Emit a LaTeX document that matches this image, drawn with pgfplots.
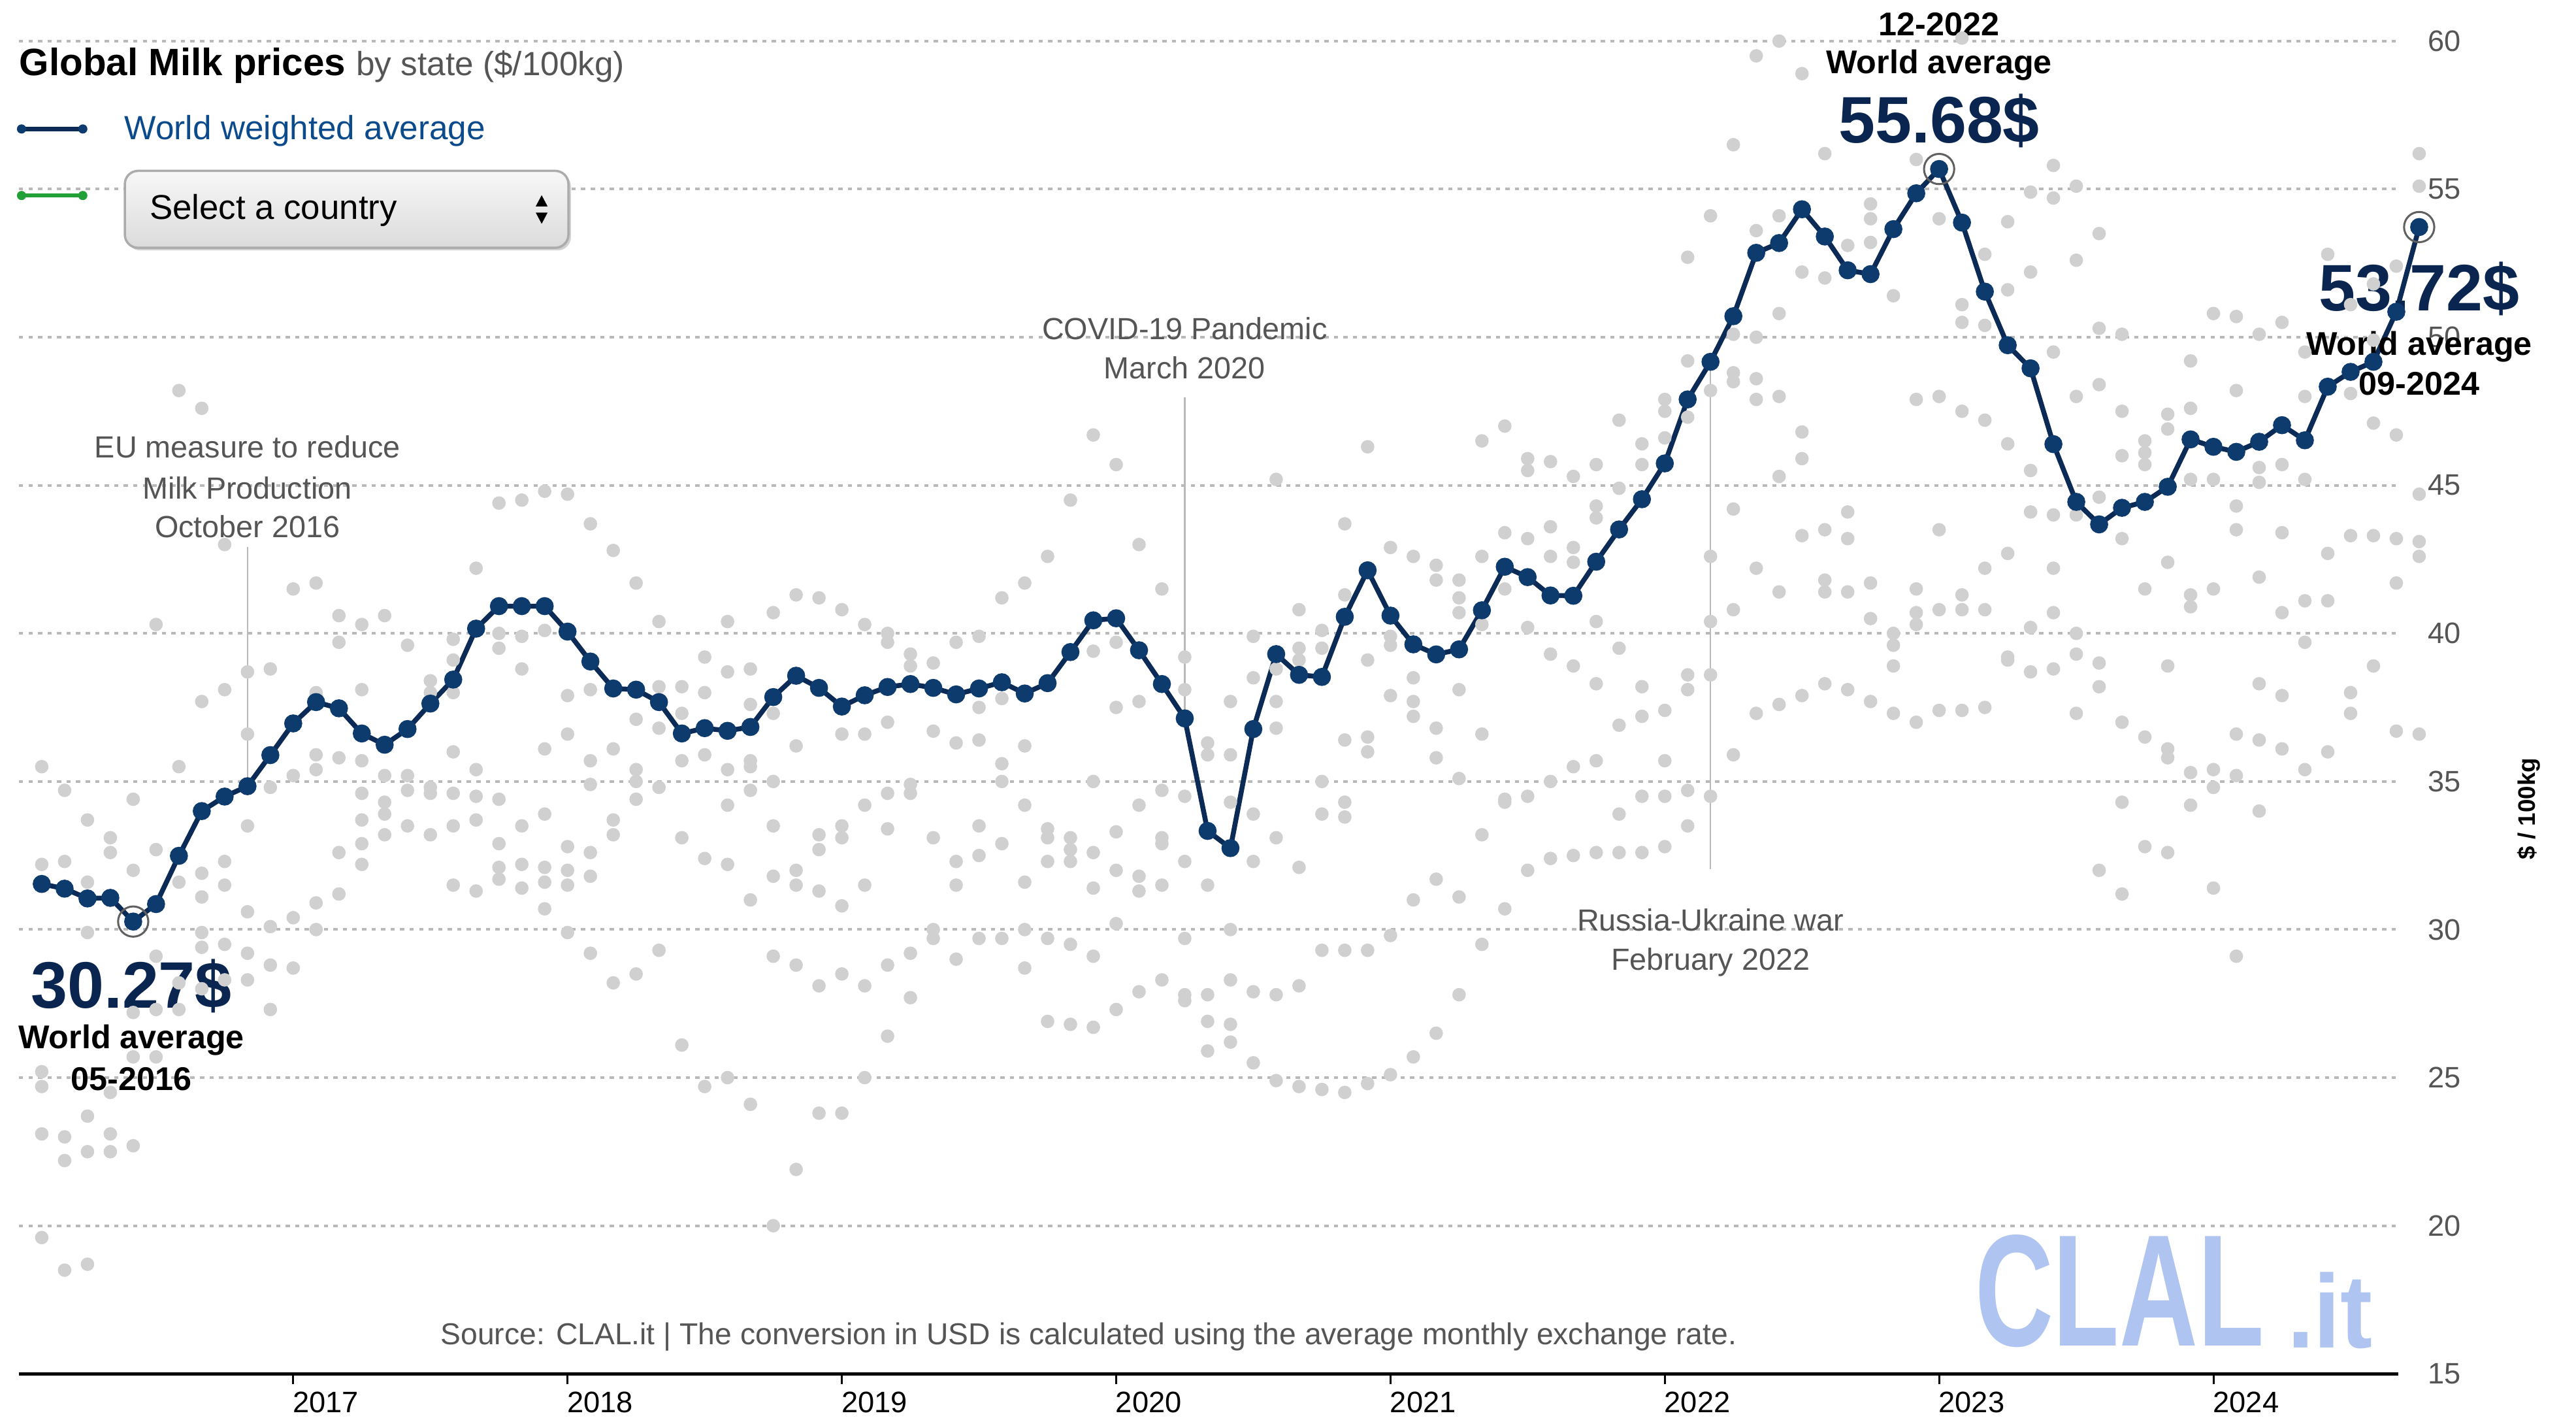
\documentclass[border=0pt]{standalone}
\usepackage{pgfplots}
\pgfplotsset{compat=1.18}
\usepackage{fontspec}
\setmainfont{Liberation Sans}
\definecolor{navyline}{HTML}{0B2A55}
\definecolor{navydot}{HTML}{0D3B6E}
\definecolor{dotgray}{HTML}{D0D0D0}
\definecolor{txtgray}{HTML}{555555}
\definecolor{legblue}{HTML}{0B4A8B}
\definecolor{biglbl}{HTML}{0A2550}
\definecolor{logoblue}{HTML}{AFC4F0}
\definecolor{leggreen}{HTML}{21A038}
\newcommand{\fs}[1]{\fontsize{#1}{1.2\dimexpr#1\relax}\selectfont}
\begin{document}
\begin{tikzpicture}
\begin{axis}[
  scale only axis, width=724.25pt, height=405.5pt,
  xmin=0, xmax=104.1, ymin=15, ymax=60,
  clip=false,
  axis x line*=bottom, axis y line*=right,
  y axis line style={draw=none},
  x axis line style={black, line width=1pt},
  xtick={12,24,36,48,60,72,84,96},
  xticklabels={2017,2018,2019,2020,2021,2022,2023,2024},
  ytick={15,20,25,30,35,40,45,50,55,60},
  tick align=outside, major tick length=3.2pt,
  xtick style={black, line width=0.6pt},
  ytick style={draw=none},
  ymajorgrids,
  grid style={gray!55, line width=0.8pt, dash pattern=on 1.3pt off 1.6pt},
  xticklabel style={anchor=north west, inner sep=0pt, font=\fs{9pt}, text=black, xshift=-0.3pt, yshift=-2pt},
  yticklabel style={anchor=west, inner sep=0pt, font=\fs{9pt}, text=txtgray, xshift=5.5pt},
  /pgf/number format/assume math mode=true,
]
% gray country dots
\addplot[only marks, color=dotgray, mark=*, mark size=1.9pt, mark options={draw=dotgray, fill=dotgray, line width=0.3pt}] coordinates {
(1,35.5)(1,32.2)(1,25.2)(1,24.7)(1,23.1)(1,19.6)
(2,34.7)(2,32.3)(2,23.0)(2,22.2)(2,18.5)
(3,33.7)(3,31.6)(3,29.9)(3,23.7)(3,22.5)(3,18.7)
(4,33.1)(4,32.6)(4,24.5)(4,23.1)(4,22.5)
(5,34.4)(5,32.0)(5,22.7)(5,27.2)(5,25.7)
(6,40.3)(6,32.7)(6,29.1)(6,27.3)(6,25.7)
(7,48.2)(7,35.5)(7,31.6)(7,28.2)(7,27.3)
(8,47.6)(8,37.7)(8,31.9)(8,31.1)(8,29.9)(8,29.4)(8,28.0)
(9,43.0)(9,38.1)(9,32.3)(9,31.5)(9,29.5)(9,28.3)
(10,38.7)(10,36.6)(10,33.5)(10,30.6)(10,29.2)(10,28.3)
(11,38.8)(11,34.8)(11,30.1)(11,28.8)(11,27.3)
(12,41.5)(12,35.2)(12,30.4)(12,28.7)
(13,41.7)(13,38.0)(13,35.9)(13,35.4)(13,30.9)(13,30.0)
(14,40.6)(14,39.7)(14,35.8)(14,32.6)(14,31.2)
(15,40.3)(15,38.1)(15,35.7)(15,34.6)(15,33.7)(15,32.9)(15,32.2)
(16,40.6)(16,35.2)(16,34.3)(16,33.9)(16,33.2)
(17,39.6)(17,35.2)(17,34.7)(17,33.5)
(18,38.4)(18,38.0)(18,34.8)(18,34.6)(18,33.2)
(19,39.8)(19,39.1)(19,38.0)(19,36.0)(19,34.6)(19,33.5)(19,31.5)
(20,42.2)(20,35.4)(20,34.5)(20,33.7)(20,31.3)
(21,44.4)(21,40.0)(21,39.5)(21,34.4)(21,32.9)(21,32.1)(21,31.7)
(22,44.5)(22,39.9)(22,38.8)(22,33.5)(22,32.2)(22,31.4)
(23,44.8)(23,40.1)(23,36.1)(23,33.9)(23,32.1)(23,31.6)(23,30.7)
(24,44.7)(24,37.9)(24,36.6)(24,32.8)(24,32.0)(24,31.5)(24,29.9)
(25,43.7)(25,38.1)(25,35.7)(25,34.9)(25,32.6)(25,31.8)(25,29.2)
(26,42.8)(26,36.1)(26,33.7)(26,33.2)(26,28.2)
(27,41.7)(27,37.1)(27,35.4)(27,35.0)(27,34.4)(27,28.5)
(28,40.4)(28,38.2)(28,36.8)(28,34.8)(28,29.3)
(29,38.2)(29,37.3)(29,35.7)(29,33.1)(29,26.1)
(30,39.2)(30,38.0)(30,35.9)(30,32.4)(30,24.7)
(31,40.4)(31,38.7)(31,35.4)(31,34.2)(31,32.2)(31,25.0)
(32,38.8)(32,37.6)(32,35.7)(32,35.5)(32,34.7)(32,31.0)(32,24.1)
(33,40.7)(33,37.3)(33,35.0)(33,33.5)(33,31.8)(33,29.1)(33,20.0)
(34,41.3)(34,36.2)(34,32.0)(34,31.5)(34,28.8)(34,21.9)
(35,41.2)(35,33.2)(35,32.7)(35,31.3)(35,28.1)(35,23.8)
(36,40.8)(36,36.6)(36,33.5)(36,33.1)(36,30.8)(36,28.5)(36,23.8)
(37,40.3)(37,36.6)(37,34.2)(37,31.5)(37,28.1)(37,25.0)
(38,40.0)(38,39.7)(38,37.0)(38,34.6)(38,33.4)(38,28.8)(38,26.4)
(39,39.3)(39,38.9)(39,34.9)(39,34.6)(39,29.2)(39,27.7)
(40,39.0)(40,36.7)(40,33.1)(40,30.0)(40,29.7)
(41,39.7)(41,36.3)(41,32.3)(41,31.5)(41,29.0)
(42,39.9)(42,37.5)(42,36.4)(42,33.5)(42,32.5)(42,29.7)
(43,41.2)(43,37.8)(43,35.6)(43,35.0)(43,32.9)(43,29.7)
(44,41.7)(44,36.2)(44,34.2)(44,31.6)(44,30.0)(44,28.7)
(45,42.6)(45,33.4)(45,33.1)(45,32.3)(45,29.7)(45,26.9)
(46,44.5)(46,33.1)(46,32.7)(46,32.3)(46,29.5)(46,26.8)
(47,46.7)(47,39.4)(47,35.0)(47,32.6)(47,31.4)(47,29.1)(47,26.7)
(48,45.7)(48,39.7)(48,37.5)(48,33.3)(48,32.0)(48,30.2)(48,27.3)
(49,43.0)(49,37.7)(49,34.2)(49,31.8)(49,31.3)(49,27.9)
(50,41.5)(50,34.7)(50,33.1)(50,32.9)(50,31.5)(50,28.3)
(51,39.2)(51,38.1)(51,34.5)(51,32.3)(51,29.7)(51,27.8)(51,27.6)
(52,36.3)(52,35.9)(52,31.5)(52,27.8)(52,26.9)(52,25.9)
(53,37.7)(53,35.9)(53,34.3)(53,30.0)(53,28.3)(53,26.8)(53,26.2)
(54,39.9)(54,38.5)(54,33.9)(54,32.3)(54,27.9)(54,25.5)
(55,45.2)(55,38.8)(55,37.7)(55,36.8)(55,33.1)(55,27.8)(55,24.9)
(56,40.8)(56,39.5)(56,39.1)(56,32.1)(56,28.1)(56,24.7)
(57,40.1)(57,39.5)(57,35.0)(57,33.9)(57,29.3)(57,24.6)
(58,43.7)(58,41.3)(58,36.4)(58,34.3)(58,33.8)(58,29.3)(58,24.5)
(59,46.3)(59,39.1)(59,36.5)(59,36.0)(59,29.3)(59,24.8)
(60,42.9)(60,39.9)(60,39.6)(60,37.9)(60,29.8)(60,25.1)
(61,42.6)(61,38.5)(61,37.7)(61,37.2)(61,31.0)(61,25.7)
(62,42.3)(62,41.8)(62,36.8)(62,35.8)(62,31.7)(62,26.5)
(63,41.8)(63,41.2)(63,40.7)(63,38.1)(63,35.1)(63,31.1)(63,27.8)
(64,46.5)(64,42.6)(64,40.3)(64,36.6)(64,33.2)(64,29.5)
(65,47.0)(65,43.4)(65,41.5)(65,34.4)(65,34.3)(65,30.7)
(66,45.9)(66,45.5)(66,43.2)(66,40.2)(66,34.5)(66,32.0)
(67,45.8)(67,43.6)(67,42.6)(67,39.3)(67,35.0)(67,32.4)
(68,45.3)(68,42.9)(68,42.4)(68,38.9)(68,35.5)(68,32.5)
(69,45.7)(69,44.3)(69,43.9)(69,40.4)(69,38.3)(69,35.7)(69,32.6)
(70,47.2)(70,44.9)(70,39.5)(70,36.9)(70,33.9)(70,32.6)
(71,46.4)(71,45.7)(71,38.2)(71,37.2)(71,34.5)(71,32.6)
(72,47.9)(72,47.5)(72,46.6)(72,37.4)(72,35.7)(72,34.5)(72,32.8)
(73,52.7)(73,49.2)(73,47.3)(73,38.6)(73,38.1)(73,34.7)(73,33.5)
(74,54.1)(74,48.2)(74,42.6)(74,40.4)(74,38.6)(74,34.5)
(75,56.5)(75,50.1)(75,48.8)(75,48.5)(75,44.2)(75,40.8)(75,35.9)
(76,59.5)(76,53.6)(76,50.0)(76,48.6)(76,47.9)(76,42.2)(76,37.3)
(77,60.0)(77,54.1)(77,50.8)(77,48.0)(77,45.3)(77,41.4)(77,37.6)
(78,58.9)(78,52.2)(78,46.8)(78,45.9)(78,43.3)(78,37.9)
(79,56.2)(79,52.0)(79,43.5)(79,41.8)(79,41.4)(79,38.3)
(80,53.1)(80,44.1)(80,43.2)(80,41.4)(80,38.1)
(81,54.5)(81,54.0)(81,53.2)(81,41.7)(81,40.5)(81,37.7)
(82,51.4)(82,40.0)(82,39.6)(82,38.9)(82,37.3)
(83,56.0)(83,47.9)(83,41.5)(83,40.7)(83,40.3)(83,37.0)
(84,54.0)(84,48.0)(84,43.5)(84,40.8)(84,37.4)
(85,60.1)(85,51.1)(85,50.5)(85,47.5)(85,41.3)(85,40.8)(85,37.4)
(86,52.8)(86,50.4)(86,47.2)(86,42.2)(86,40.8)(86,37.5)
(87,53.9)(87,51.6)(87,46.4)(87,42.7)(87,39.2)(87,39.1)
(88,54.9)(88,52.2)(88,45.5)(88,44.1)(88,40.2)(88,38.7)
(89,55.8)(89,54.7)(89,49.5)(89,44.0)(89,42.2)(89,40.7)(89,38.8)
(90,55.1)(90,52.6)(90,48.0)(90,44.0)(90,40.0)(90,39.3)(90,37.3)
(91,53.5)(91,50.3)(91,48.4)(91,44.6)(91,39.0)(91,38.2)(91,32.0)
(92,50.1)(92,47.5)(92,46.0)(92,43.2)(92,37.0)(92,34.3)(92,31.2)
(93,46.5)(93,46.1)(93,45.7)(93,41.5)(93,36.5)(93,32.8)
(94,47.4)(94,46.9)(94,42.4)(94,38.9)(94,36.1)(94,35.8)(94,32.6)
(95,49.2)(95,47.6)(95,45.2)(95,41.3)(95,40.9)(95,35.3)(95,34.2)
(96,50.8)(96,45.2)(96,41.5)(96,35.4)(96,34.8)(96,31.4)
(97,50.7)(97,48.2)(97,44.3)(97,43.5)(97,36.6)(97,35.2)(97,29.1)
(98,50.1)(98,45.6)(98,45.1)(98,41.9)(98,38.3)(98,36.4)(98,34.0)
(99,50.5)(99,45.7)(99,43.4)(99,40.7)(99,37.9)(99,36.1)
(100,49.5)(100,48.0)(100,45.2)(100,41.1)(100,39.7)(100,35.4)
(101,52.8)(101,42.7)(101,41.1)(101,36.0)
(102,51.1)(102,48.1)(102,43.3)(102,38.0)(102,37.3)
(103,51.8)(103,49.9)(103,47.1)(103,43.3)(103,38.9)
(104,52.4)(104,46.7)(104,43.2)(104,41.7)(104,36.7)
(105,56.2)(105,55.1)(105,44.7)(105,43.1)(105,42.6)(105,36.6)
};
% event lines
\addplot[gray!55, line width=0.5pt] coordinates {(10,42.92)(10,34.84)};
\addplot[gray!55, line width=0.5pt] coordinates {(51,47.96)(51,37.13)};
\addplot[gray!55, line width=0.5pt] coordinates {(74,49.17)(74,32.03)};
% world weighted average
\addplot[navyline, line width=1.5pt, mark=*, mark size=2.6pt, mark options={fill=navydot, draw=navydot, line width=0.3pt}] coordinates {
(1,31.54)(2,31.38)(3,31.05)(4,31.07)(5,30.27)(6,30.86)(7,32.49)(8,34.0)(9,34.49)(10,34.84)
(11,35.89)(12,36.96)(13,37.68)(14,37.47)(15,36.62)(16,36.24)(17,36.77)(18,37.63)(19,38.44)(20,40.16)
(21,40.92)(22,40.92)(23,40.92)(24,40.06)(25,39.05)(26,38.14)(27,38.1)(28,37.68)(29,36.62)(30,36.8)
(31,36.71)(32,36.84)(33,37.85)(34,38.57)(35,38.16)(36,37.53)(37,37.91)(38,38.19)(39,38.29)(40,38.16)
(41,37.94)(42,38.14)(43,38.35)(44,37.97)(45,38.32)(46,39.37)(47,40.44)(48,40.51)(49,39.43)(50,38.29)
(51,37.13)(52,33.33)(53,32.75)(54,36.77)(55,39.3)(56,38.6)(57,38.53)(58,40.56)(59,42.13)(60,40.6)
(61,39.63)(62,39.29)(63,39.46)(64,40.78)(65,42.25)(66,41.9)(67,41.28)(68,41.27)(69,42.42)(70,43.51)
(71,44.53)(72,45.74)(73,47.9)(74,49.17)(75,50.71)(76,52.85)(77,53.18)(78,54.32)(79,53.4)(80,52.26)
(81,52.13)(82,53.65)(83,54.86)(84,55.68)(85,53.87)(86,51.54)(87,49.73)(88,48.95)(89,46.39)(90,44.44)
(91,43.68)(92,44.24)(93,44.44)(94,44.95)(95,46.55)(96,46.3)(97,46.13)(98,46.47)(99,47.03)(100,46.52)
(101,48.33)(102,48.83)(103,49.17)(104,50.86)(105,53.72)
};
% highlight rings
\addplot[only marks, mark=o, mark size=4.6pt, mark options={draw=gray!75!black, line width=0.6pt}] coordinates {(5,30.27)(84,55.68)(105,53.72)};
% annotations
\node[text=txtgray, font=\fs{9.3pt}, anchor=base, inner sep=0pt] at (axis cs:10,45.92) {EU measure to reduce};
\node[text=txtgray, font=\fs{9.3pt}, anchor=base, inner sep=0pt] at (axis cs:10,44.55) {Milk Production};
\node[text=txtgray, font=\fs{9.3pt}, anchor=base, inner sep=0pt] at (axis cs:10,43.24) {October 2016};
\node[text=txtgray, font=\fs{9.3pt}, anchor=base, inner sep=0pt] at (axis cs:51,49.92) {COVID-19 Pandemic};
\node[text=txtgray, font=\fs{9.3pt}, anchor=base, inner sep=0pt] at (axis cs:51,48.59) {March 2020};
\node[text=txtgray, font=\fs{9.3pt}, anchor=base, inner sep=0pt] at (axis cs:74,29.96) {Russia-Ukraine war};
\node[text=txtgray, font=\fs{9.3pt}, anchor=base, inner sep=0pt] at (axis cs:74,28.64) {February 2022};
% value labels
\node[text=biglbl, font=\bfseries\fs{20pt}, anchor=base, inner sep=0pt] at (axis cs:4.92,27.34) {30.27\$};
\node[text=black, font=\bfseries\fs{10pt}, anchor=base, inner sep=0pt] at (axis cs:4.92,25.98) {World average};
\node[text=black, font=\bfseries\fs{10pt}, anchor=base, inner sep=0pt] at (axis cs:4.92,24.56) {05-2016};
\node[text=black, font=\bfseries\fs{10pt}, anchor=base, inner sep=0pt] at (axis cs:84,60.18) {12-2022};
\node[text=black, font=\bfseries\fs{10pt}, anchor=base, inner sep=0pt] at (axis cs:84,58.9) {World average};
\node[text=biglbl, font=\bfseries\fs{20pt}, anchor=base, inner sep=0pt] at (axis cs:84,56.57) {55.68\$};
\node[text=biglbl, font=\bfseries\fs{20pt}, anchor=base, inner sep=0pt] at (axis cs:105,50.89) {53.72\$};
\node[text=black, font=\bfseries\fs{10pt}, anchor=base, inner sep=0pt] at (axis cs:105,49.39) {World average};
\node[text=black, font=\bfseries\fs{10pt}, anchor=base, inner sep=0pt] at (axis cs:105,48.04) {09-2024};
% y axis label
\node[rotate=90, font=\bfseries\fs{7.3pt}, text=black, inner sep=0pt] at (axis cs:109.8,34.08) {\$ / 100kg};
% source
\node[text=txtgray, font=\fs{9.2pt}, anchor=base, inner sep=0pt] at (axis cs:46.8,15.99) {Source: CLAL.it | The conversion in USD is calculated using the average monthly exchange rate.};
% logo
\node[text=logoblue, anchor=south west, inner sep=0pt] at (axis cs:85.54,15.86) {\resizebox{88pt}{33.8pt}{\bfseries CLAL}};
\node[text=logoblue, anchor=south west, inner sep=0pt] at (axis cs:99.2,15.82) {\resizebox{26pt}{23pt}{\bfseries .it}};
\end{axis}
% title and legend (axis box lower-left is at origin)
\node[anchor=base west, inner sep=0pt, font=\fs{11.6pt}] at (0pt,395pt) {\textbf{Global Milk prices} {\color{txtgray}\fontsize{10.2pt}{12pt}\selectfont by state (\$/100kg)}};
\draw[navyline, line width=1.3pt] (0pt,378.75pt) -- (20.25pt,378.75pt);
\fill[navydot] (0.8pt,378.75pt) circle (1.4pt) (19.45pt,378.75pt) circle (1.4pt);
\node[anchor=base west, inner sep=0pt, font=\fs{10.2pt}, text=legblue] at (32pt,375.6pt) {World weighted average};
\draw[leggreen, line width=1.3pt] (0pt,358.5pt) -- (20.25pt,358.5pt);
\fill[leggreen] (0.8pt,358.5pt) circle (1.4pt) (19.45pt,358.5pt) circle (1.4pt);
\fill[gray!35, rounded corners=4pt] (32.9pt,341.8pt) rectangle (168pt,365.3pt);
\shade[top color=gray!6, bottom color=gray!28, draw=gray!65, line width=0.7pt, rounded corners=4pt] (32.25pt,342.6pt) rectangle (167.25pt,366pt);
\node[anchor=base west, inner sep=0pt, font=\fs{10.5pt}, text=black] at (39.6pt,351.2pt) {Select a country};
\fill[black] (157.3pt,355.2pt) -- (160.9pt,355.2pt) -- (159.1pt,358.6pt) -- cycle;
\fill[black] (157.3pt,353.3pt) -- (160.9pt,353.3pt) -- (159.1pt,349.9pt) -- cycle;
\pgfresetboundingbox
\path[use as bounding box] (-5.75pt,-14.5pt) rectangle (778.25pt,418pt);
\end{tikzpicture}
\end{document}
